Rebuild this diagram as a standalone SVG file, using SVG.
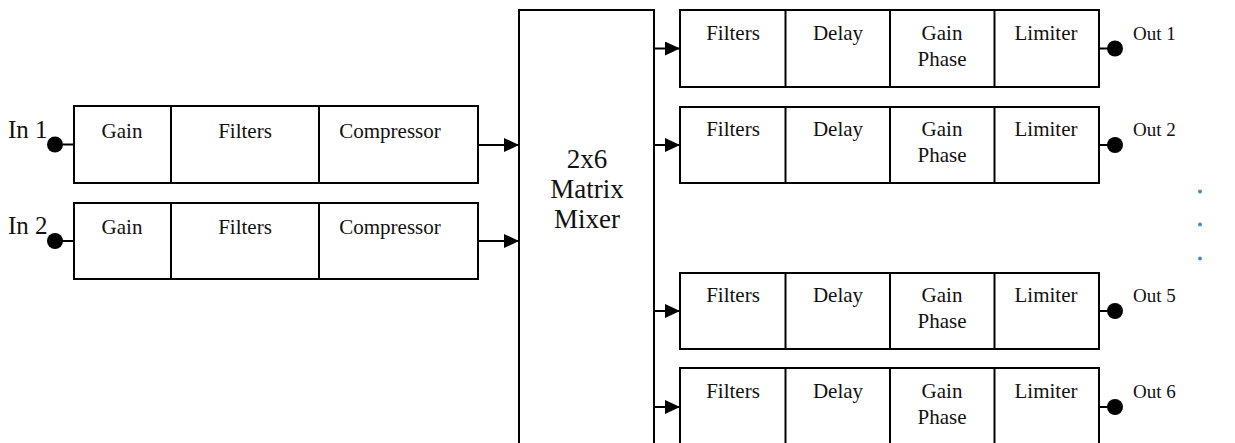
<svg xmlns="http://www.w3.org/2000/svg" width="1235" height="443" viewBox="0 0 1235 443">
  <style>
    .box { fill: #ffffff; stroke: #000000; stroke-width: 2; }
    .div { stroke: #000000; stroke-width: 2; }
    .wire { stroke: #000000; stroke-width: 2; fill: none; }
    .lbl { font-family: "Liberation Serif", "Times New Roman", serif; font-size: 21px; fill: #111111; text-anchor: middle; }
    .port { font-family: "Liberation Serif", "Times New Roman", serif; font-size: 25px; fill: #111111; }
    .outp { font-family: "Liberation Serif", "Times New Roman", serif; font-size: 19px; fill: #111111; }
    .mix { font-family: "Liberation Serif", "Times New Roman", serif; font-size: 27px; fill: #111111; text-anchor: middle; }
    .jack { fill: #000000; }
    .dot { fill: #4a86d8; }
  </style>
  <defs>
    <marker id="arrow" viewBox="0 0 15 14" refX="15" refY="7" markerWidth="15" markerHeight="14" markerUnits="userSpaceOnUse" orient="auto">
      <path d="M0,0 L15,7 L0,14 Z" fill="#000000"/>
    </marker>
  </defs>
  <rect width="1235" height="443" fill="#ffffff"/>

  <!-- signal wiring -->
  <g id="connectors">
    <line class="wire" x1="55" y1="144.5" x2="74" y2="144.5"/>
    <line class="wire" x1="55" y1="241" x2="74" y2="241"/>
    <line class="wire" x1="478" y1="145" x2="519" y2="145" marker-end="url(#arrow)"/>
    <line class="wire" x1="478" y1="241" x2="519" y2="241" marker-end="url(#arrow)"/>
    <line class="wire" x1="654" y1="48.5" x2="680" y2="48.5" marker-end="url(#arrow)"/>
    <line class="wire" x1="654" y1="145" x2="680" y2="145" marker-end="url(#arrow)"/>
    <line class="wire" x1="654" y1="311" x2="680" y2="311" marker-end="url(#arrow)"/>
    <line class="wire" x1="654" y1="407" x2="680" y2="407" marker-end="url(#arrow)"/>
    <line class="wire" x1="1099" y1="48.5" x2="1115" y2="48.5"/>
    <line class="wire" x1="1099" y1="145" x2="1115" y2="145"/>
    <line class="wire" x1="1099" y1="311" x2="1115" y2="311"/>
    <line class="wire" x1="1099" y1="407" x2="1115" y2="407"/>
  </g>

  <!-- input ports -->
  <g id="in1">
    <text class="port" x="8" y="138">In 1</text>
    <circle class="jack" cx="55" cy="144.5" r="8"/>
  </g>
  <g id="in2">
    <text class="port" x="8" y="234">In 2</text>
    <circle class="jack" cx="55" cy="241" r="8"/>
  </g>

  <!-- input channel strips -->
  <g id="chain-in1">
    <rect class="box" x="74" y="106" width="404" height="77"/>
    <line class="div" x1="171" y1="106" x2="171" y2="183"/>
    <line class="div" x1="319" y1="106" x2="319" y2="183"/>
    <text class="lbl" x="122" y="138">Gain</text>
    <text class="lbl" x="245" y="138">Filters</text>
    <text class="lbl" x="390" y="138">Compressor</text>
  </g>
  <g id="chain-in2">
    <rect class="box" x="74" y="203" width="404" height="76"/>
    <line class="div" x1="171" y1="203" x2="171" y2="279"/>
    <line class="div" x1="319" y1="203" x2="319" y2="279"/>
    <text class="lbl" x="122" y="234">Gain</text>
    <text class="lbl" x="245" y="234">Filters</text>
    <text class="lbl" x="390" y="234">Compressor</text>
  </g>

  <!-- matrix mixer -->
  <g id="mixer">
    <rect class="box" x="519" y="10" width="135" height="445"/>
    <text class="mix" x="587" y="168">2x6</text>
    <text class="mix" x="587" y="198">Matrix</text>
    <text class="mix" x="587" y="228">Mixer</text>
  </g>

  <!-- output channel strips -->
  <g id="chain-out1">
    <rect class="box" x="680" y="10" width="419" height="77"/>
    <line class="div" x1="785.5" y1="10" x2="785.5" y2="87"/>
    <line class="div" x1="890" y1="10" x2="890" y2="87"/>
    <line class="div" x1="994.5" y1="10" x2="994.5" y2="87"/>
    <text class="lbl" x="733" y="40">Filters</text>
    <text class="lbl" x="838" y="40">Delay</text>
    <text class="lbl" x="942" y="40">Gain</text>
    <text class="lbl" x="942" y="66">Phase</text>
    <text class="lbl" x="1046" y="40">Limiter</text>
  </g>
  <g id="chain-out2">
    <rect class="box" x="680" y="107" width="419" height="76"/>
    <line class="div" x1="785.5" y1="107" x2="785.5" y2="183"/>
    <line class="div" x1="890" y1="107" x2="890" y2="183"/>
    <line class="div" x1="994.5" y1="107" x2="994.5" y2="183"/>
    <text class="lbl" x="733" y="136">Filters</text>
    <text class="lbl" x="838" y="136">Delay</text>
    <text class="lbl" x="942" y="136">Gain</text>
    <text class="lbl" x="942" y="162">Phase</text>
    <text class="lbl" x="1046" y="136">Limiter</text>
  </g>
  <g id="chain-out5">
    <rect class="box" x="680" y="273" width="419" height="76"/>
    <line class="div" x1="785.5" y1="273" x2="785.5" y2="349"/>
    <line class="div" x1="890" y1="273" x2="890" y2="349"/>
    <line class="div" x1="994.5" y1="273" x2="994.5" y2="349"/>
    <text class="lbl" x="733" y="302">Filters</text>
    <text class="lbl" x="838" y="302">Delay</text>
    <text class="lbl" x="942" y="302">Gain</text>
    <text class="lbl" x="942" y="328">Phase</text>
    <text class="lbl" x="1046" y="302">Limiter</text>
  </g>
  <g id="chain-out6">
    <rect class="box" x="680" y="368" width="419" height="90"/>
    <line class="div" x1="785.5" y1="368" x2="785.5" y2="458"/>
    <line class="div" x1="890" y1="368" x2="890" y2="458"/>
    <line class="div" x1="994.5" y1="368" x2="994.5" y2="458"/>
    <text class="lbl" x="733" y="398">Filters</text>
    <text class="lbl" x="838" y="398">Delay</text>
    <text class="lbl" x="942" y="398">Gain</text>
    <text class="lbl" x="942" y="424">Phase</text>
    <text class="lbl" x="1046" y="398">Limiter</text>
  </g>

  <!-- output ports -->
  <g id="out1">
    <circle class="jack" cx="1115" cy="48.5" r="8"/>
    <text class="outp" x="1133" y="40">Out 1</text>
  </g>
  <g id="out2">
    <circle class="jack" cx="1115" cy="145" r="8"/>
    <text class="outp" x="1133" y="136">Out 2</text>
  </g>
  <g id="out5">
    <circle class="jack" cx="1115" cy="311" r="8"/>
    <text class="outp" x="1133" y="302">Out 5</text>
  </g>
  <g id="out6">
    <circle class="jack" cx="1115" cy="407" r="8"/>
    <text class="outp" x="1133" y="398">Out 6</text>
  </g>

  <!-- ellipsis for omitted outputs -->
  <g id="ellipsis">
    <circle class="dot" cx="1200" cy="191.5" r="2"/>
    <circle class="dot" cx="1200" cy="224.5" r="2"/>
    <circle class="dot" cx="1200" cy="258.5" r="2"/>
  </g>
</svg>
